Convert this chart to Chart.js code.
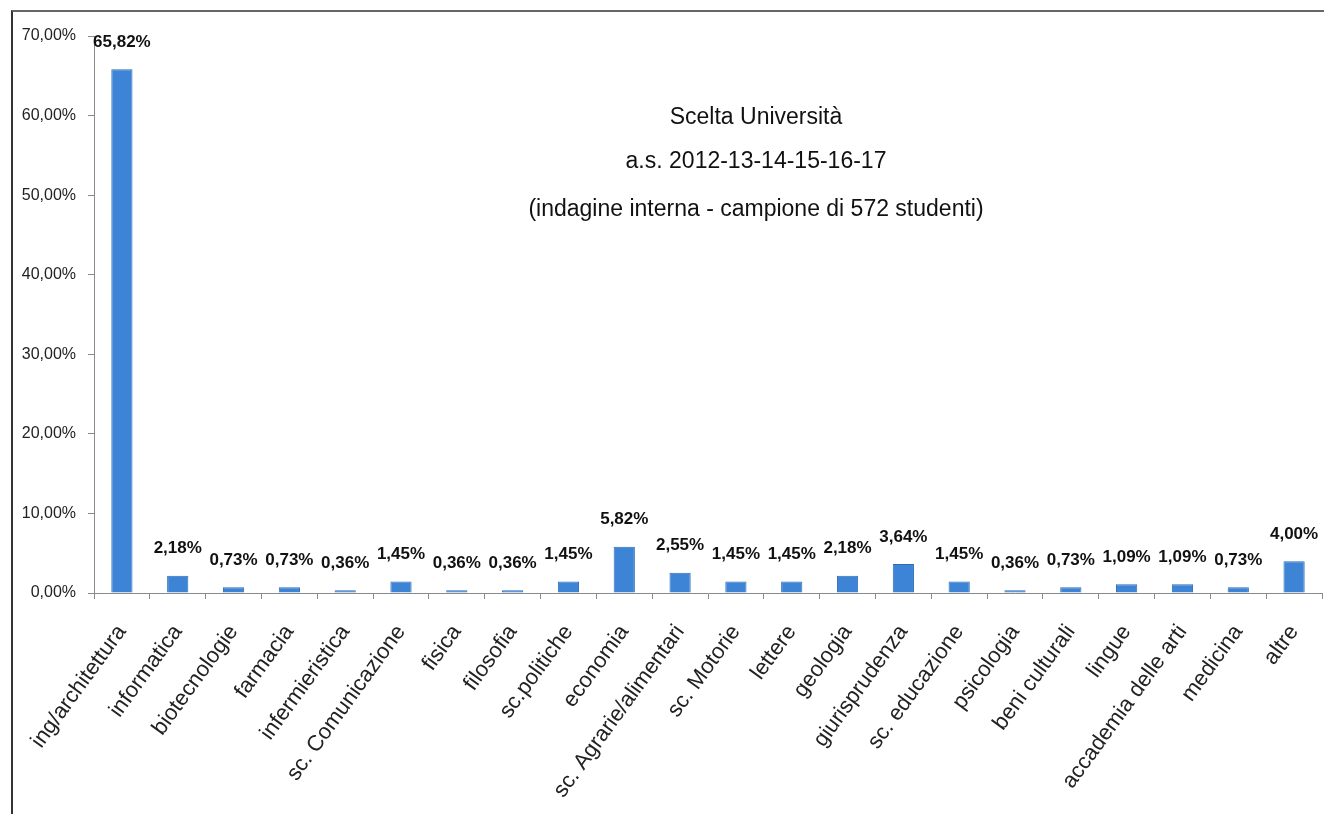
<!DOCTYPE html>
<html>
<head>
<meta charset="utf-8">
<title>Scelta Università</title>
<script src="https://cdn.jsdelivr.net/npm/chart.js@4.4.0/dist/chart.umd.min.js"></script>
<style>
  body { margin: 0; background: #fff; }
  #wrap { position: relative; width: 1324px; height: 814px; }
  #frame { position: absolute; left: 11px; top: 10px; right: 0; bottom: 0;
           border-left: 2px solid #333; border-top: 2px solid #666; }
  #myChart { position: absolute; left: 0; top: 0; }
</style>
</head>
<body>
<div id="wrap">
  <div id="frame"></div>
  <canvas id="myChart" width="1324" height="814"></canvas>
</div>
<script>
// categories (corsi di laurea scelti)
var categories = ["ing/architettura", "informatica", "biotecnologie", "farmacia", "infermieristica",
    "sc. Comunicazione", "fisica", "filosofia", "sc.politiche", "economia", "sc. Agrarie/alimentari",
    "sc. Motorie", "lettere", "geologia", "giurisprudenza", "sc. educazione", "psicologia",
    "beni culturali", "lingue", "accademia delle arti", "medicina", "altre"];

// percentages
var percentages = [65.82, 2.18, 0.73, 0.73, 0.36, 1.45, 0.36, 0.36, 1.45, 5.82, 2.55,
    1.45, 1.45, 2.18, 3.64, 1.45, 0.36, 0.73, 1.09, 1.09, 0.73, 4.00];

// y axis ticks
var yTicks = [0, 10, 20, 30, 40, 50, 60, 70];

var titleLines = ["Scelta Università", "a.s. 2012-13-14-15-16-17", "(indagine interna - campione di 572 studenti)"];

var FONT = '"Liberation Sans", Arial, sans-serif';

function pct(v) {
    return v.toFixed(2).replace('.', ',') + '%';
}

// values above the bars
var valueLabels = {
    id: 'valueLabels',
    afterDatasetsDraw: function (chart) {
        var ctx = chart.ctx;
        var meta = chart.getDatasetMeta(0);
        ctx.save();
        ctx.font = 'bold 17px ' + FONT;
        ctx.fillStyle = '#111';
        ctx.textAlign = 'center';
        ctx.textBaseline = 'middle';
        meta.data.forEach(function (bar, i) {
            ctx.fillText(pct(percentages[i]), bar.x, bar.y - 27);
        });
        ctx.restore();
    }
};

// title written inside the plot area
var innerTitle = {
    id: 'innerTitle',
    afterDraw: function (chart) {
        var ctx = chart.ctx;
        ctx.save();
        ctx.font = '23px ' + FONT;
        ctx.fillStyle = '#111';
        ctx.textAlign = 'center';
        ctx.textBaseline = 'middle';
        var ys = [118, 162, 210];
        titleLines.forEach(function (t, i) {
            ctx.fillText(t, 756, ys[i]);
        });
        ctx.restore();
    }
};

var ctx = document.getElementById('myChart').getContext('2d');
var myChart = new Chart(ctx, {
    type: 'bar',
    data: {
        labels: categories,
        datasets: [{
            data: percentages,
            backgroundColor: '#3d84d6',
            borderColor: '#2f6cb6',
            borderWidth: 1,
            barPercentage: 0.38,
            categoryPercentage: 1
        }]
    },
    options: {
        responsive: false,
        animation: false,
        layout: { padding: { top: 36, right: 2, left: 0, bottom: 0 } },
        plugins: {
            legend: { display: false },
            tooltip: { enabled: false }
        },
        scales: {
            y: {
                min: 0,
                max: 70,
                afterBuildTicks: function (scale) {
                    scale.ticks = yTicks.map(function (v) { return { value: v }; });
                },
                afterFit: function (scale) { scale.width = 94; },
                border: { display: true, color: '#8a8a8a', width: 1 },
                grid: { drawOnChartArea: false, drawTicks: true, tickLength: 6, color: '#8a8a8a' },
                ticks: {
                    padding: 12,
                    color: '#222',
                    font: { family: FONT, size: 16 },
                    callback: function (v) { return pct(v); }
                }
            },
            x: {
                afterFit: function (scale) {
                    scale.height = 221;
                    scale.paddingLeft = 0;
                    scale.paddingRight = 0;
                },
                border: { display: true, color: '#8a8a8a', width: 1 },
                grid: { drawOnChartArea: false, drawTicks: true, tickLength: 6, color: '#8a8a8a' },
                ticks: {
                    autoSkip: false,
                    minRotation: 54,
                    maxRotation: 54,
                    padding: 21,
                    color: '#222',
                    font: { family: FONT, size: 22 }
                }
            }
        }
    },
    plugins: [valueLabels, innerTitle]
});
</script>
</body>
</html>
